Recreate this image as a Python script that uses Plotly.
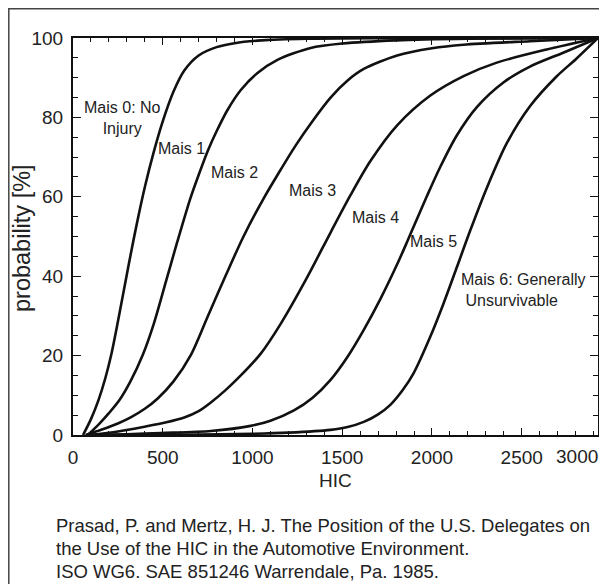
import plotly.graph_objects as go

# ---------------- data ----------------
hic_c1 = [56, 100, 142, 180, 213, 250, 296, 330, 362, 400, 450, 500, 560, 620, 700, 800, 900, 1050, 1300, 1700, 2925]
p_c1 = [0, 4, 8.8, 14.3, 20.2, 28.5, 39.5, 47.5, 54.6, 62.4, 71.3, 79, 86.5, 91.8, 95.6, 97.7, 98.7, 99.4, 99.8, 99.95, 100]

hic_c2 = [83, 150, 200, 259, 320, 389, 450, 520, 580, 653, 700, 750, 800, 860, 935, 1028, 1139, 1324, 1500, 1800, 2200, 2925]
p_c2 = [0, 3, 5.5, 8.8, 13.5, 20.2, 28, 39, 48.5, 59.5, 65.5, 71.5, 76.5, 81.8, 86.9, 91.2, 94.5, 97.5, 98.6, 99.4, 99.8, 100]

hic_c3 = [70, 157, 250, 324, 400, 472, 560, 657, 750, 852, 950, 1061, 1150, 1240, 1330, 1435, 1530, 1620, 1806, 2000, 2176, 2546, 2925]
p_c3 = [0, 1.3, 2.9, 4.5, 6.6, 9.2, 13.5, 20.2, 29.8, 40.3, 50, 59.5, 66.3, 72.9, 78.8, 85, 89.3, 92.2, 95.6, 97.4, 98.3, 99.2, 100]

hic_c4 = [90, 250, 398, 520, 620, 700, 768, 850, 935, 1046, 1157, 1296, 1435, 1546, 1657, 1806, 1991, 2176, 2361, 2639, 2925]
p_c4 = [0, 0.9, 2.1, 3.2, 4.4, 6.0, 8.2, 11.3, 15, 20.5, 28, 39, 51, 60.4, 69, 78, 85.5, 90.4, 93.8, 97.1, 100]

hic_c5 = [80, 300, 491, 768, 990, 1100, 1231, 1335, 1435, 1528, 1620, 1713, 1806, 1861, 1917, 1972, 2046, 2139, 2250, 2398, 2546, 2731, 2925]
p_c5 = [0, 0.2, 0.5, 1.0, 2.3, 3.6, 6.2, 9.4, 13.9, 19.6, 26.5, 34.3, 43, 48.6, 54.5, 60.2, 67.5, 75.5, 82.6, 88.8, 92.8, 96.3, 100]

hic_c6 = [80, 700, 1000, 1200, 1435, 1530, 1620, 1700, 1768, 1835, 1898, 1991, 2065, 2139, 2213, 2306, 2417, 2546, 2694, 2800, 2925]
p_c6 = [0, 0.1, 0.3, 0.6, 1.3, 2.0, 3.3, 5.2, 7.6, 11.2, 15.6, 24.8, 33.2, 42.3, 51.5, 62.3, 73.5, 82.8, 90.3, 94.6, 100]

region_labels = ["Mais 0: No<br>Injury", "Mais 1", "Mais 2", "Mais 3", "Mais 4", "Mais 5",
                 "Mais 6: Generally<br> Unsurvivable"]
x_tick_values = [0, 500, 1000, 1500, 2000, 2500, 3000]
y_tick_values = [0, 20, 40, 60, 80, 100]
x_title = "HIC"
y_title = "probability [%]"
citation_lines = [
    "Prasad, P. and Mertz, H. J. The Position of the U.S. Delegates on",
    "the Use of the HIC in the Automotive Environment.",
    "ISO WG6. SAE 851246 Warrendale, Pa. 1985.",
]

# ---------------- styling / layout ----------------
OFF = 8                      # page body margin of the browser
W, H = 607 - OFF, 584 - OFF
ML, MR, MT, MB = 65, 9, 30, 149
PW, PH = W - ML - MR, H - MT - MB
X_MAX = 2925
FONT = "Liberation Sans, Arial, Helvetica, sans-serif"
TXT = "#222222"
INK = "#111111"


def px_x(sx):
    """screen x pixel -> paper coordinate"""
    return (sx - OFF - ML) / PW


def px_y(sy):
    """screen y pixel -> paper coordinate"""
    return (H - MB - (sy - OFF)) / PH


fig = go.Figure()
for hx, py_ in [(hic_c1, p_c1), (hic_c2, p_c2), (hic_c3, p_c3),
                (hic_c4, p_c4), (hic_c5, p_c5), (hic_c6, p_c6)]:
    fig.add_trace(go.Scatter(x=hx, y=py_, mode="lines",
                             line=dict(color=INK, width=2.6, shape="spline", smoothing=0.8),
                             showlegend=False, hoverinfo="skip"))

# region labels (positions in data units)
label_pos = [(276, 79.9, "center"), (602, 72.2, "center"), (897, 66.2, "center"),
             (1332, 61.5, "center"), (1683, 54.9, "center"), (2009, 48.7, "center"),
             (2150, 36.6, "left")]
for txt, (lx, ly, anc) in zip(region_labels, label_pos):
    fig.add_annotation(x=lx, y=ly, xref="x", yref="y", text=txt, showarrow=False,
                       xanchor=anc, yanchor="middle", align=anc,
                       font=dict(family=FONT, size=16, color=TXT))

axis_common = dict(showline=True, linecolor=INK, linewidth=2, mirror="ticks",
                   ticks="inside", tickcolor=INK, tickwidth=1.3,
                   showgrid=False, zeroline=False,
                   tickfont=dict(family=FONT, size=19, color=TXT))

shown_x = [v for v in x_tick_values if v <= X_MAX]
fig.update_xaxes(range=[0, X_MAX], tickmode="array", tickvals=shown_x,
                 ticktext=[str(v) for v in shown_x], ticklen=7,
                 minor=dict(ticks="inside", dtick=100, ticklen=4, tickcolor=INK, tickwidth=1),
                 ticklabelstandoff=4, **axis_common)
fig.update_yaxes(range=[0, 100], tickmode="array", tickvals=y_tick_values,
                 ticktext=[str(v) for v in y_tick_values], ticklen=8,
                 minor=dict(ticks="inside", dtick=5, ticklen=5, tickcolor=INK, tickwidth=1),
                 ticklabelstandoff=4, **axis_common)

# last x tick label sits flush with the right end of the axis
fig.add_annotation(x=1.004, y=px_y(456), xref="paper", yref="paper", text=str(x_tick_values[-1]),
                   showarrow=False, xanchor="right", yanchor="middle",
                   font=dict(family=FONT, size=19, color=TXT))
# axis titles
fig.add_annotation(x=px_x(335), y=px_y(480), xref="paper", yref="paper", text=x_title,
                   showarrow=False, xanchor="center", yanchor="middle",
                   font=dict(family=FONT, size=19, color=TXT))
fig.add_annotation(x=px_x(22), y=px_y(238), xref="paper", yref="paper", text=y_title,
                   showarrow=False, xanchor="center", yanchor="middle", textangle=-90,
                   font=dict(family=FONT, size=23.5, color=TXT))
# citation
for i, line in enumerate(citation_lines):
    fig.add_annotation(x=px_x(54), y=px_y(525 + 23.2 * i), xref="paper", yref="paper", text=line,
                       showarrow=False, xanchor="left", yanchor="middle",
                       font=dict(family=FONT, size=18.5, color=TXT))

# outer frame (only its left/top edges fall inside the picture)
fig.add_shape(type="rect", xref="paper", yref="paper",
              x0=px_x(OFF + 0.8), x1=px_x(660), y0=px_y(640), y1=px_y(OFF + 0.8),
              line=dict(color="#444444", width=1.5), layer="above")

fig.update_layout(width=W, height=H, margin=dict(l=ML, r=MR, t=MT, b=MB, autoexpand=False),
                  paper_bgcolor="white", plot_bgcolor="white", showlegend=False)

fig.write_html("out.html")
